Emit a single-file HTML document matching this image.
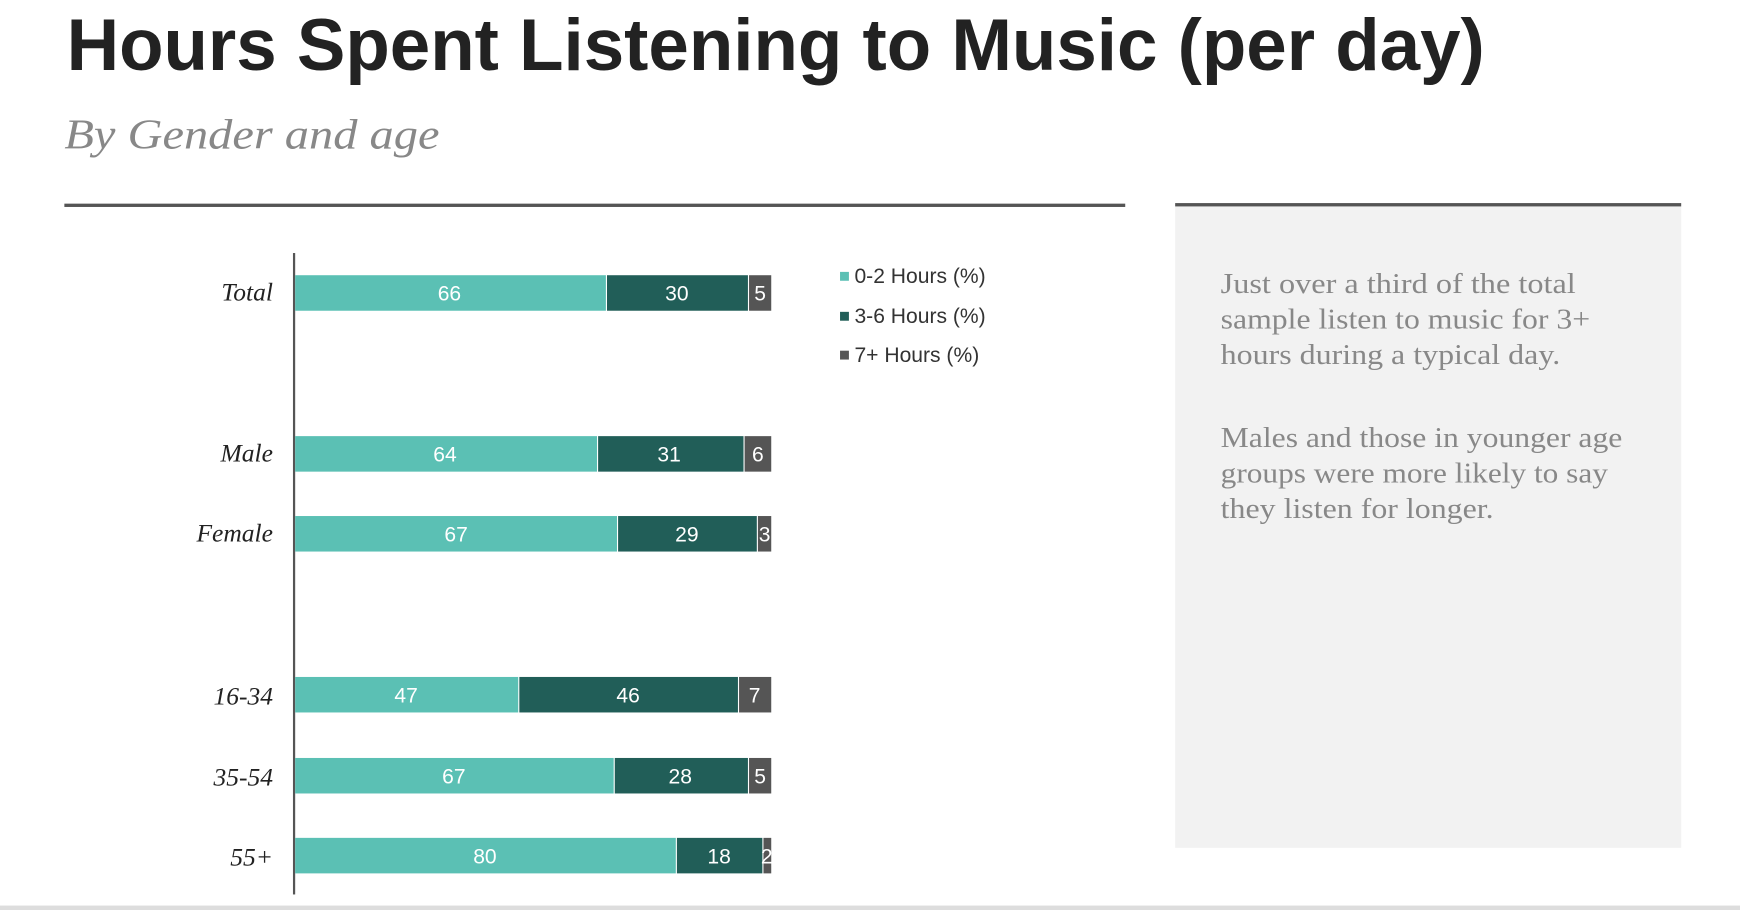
<!DOCTYPE html>
<html><head><meta charset="utf-8"><style>
html,body{margin:0;padding:0;background:#fff;}
svg{display:block;}
.lbl{font-family:"Liberation Serif",serif;font-style:italic;font-size:23px;fill:#222;text-anchor:end;}
.v{font-family:"Liberation Sans",sans-serif;font-size:19px;fill:#fff;text-anchor:middle;}
.lg{font-family:"Liberation Sans",sans-serif;font-size:19px;fill:#333;}
.p{font-family:"Liberation Serif",serif;font-size:26px;fill:#888;}
</style></head><body>
<svg width="1740" height="910" viewBox="0 0 1568 820" preserveAspectRatio="none" xmlns="http://www.w3.org/2000/svg">
<rect width="1568" height="820" fill="#fff"/>
<text x="60" y="63" font-family="Liberation Sans, sans-serif" font-weight="bold" font-size="66" fill="#222" textLength="1278" lengthAdjust="spacingAndGlyphs">Hours Spent Listening to Music (per day)</text>
<text x="58" y="134" font-family="Liberation Serif, serif" font-style="italic" font-size="38" fill="#888" textLength="338" lengthAdjust="spacingAndGlyphs">By Gender and age</text>
<rect x="58" y="183.5" width="956" height="3" fill="#555"/>
<rect x="1059" y="183" width="456" height="581" fill="#f2f2f2"/>
<rect x="1059" y="183" width="456" height="3" fill="#555"/>
<text class="p" x="1100" y="264" textLength="320" lengthAdjust="spacingAndGlyphs">Just over a third of the total</text>
<text class="p" x="1100" y="296" textLength="333" lengthAdjust="spacingAndGlyphs">sample listen to music for 3+</text>
<text class="p" x="1100" y="328" textLength="306" lengthAdjust="spacingAndGlyphs">hours during a typical day.</text>
<text class="p" x="1100" y="403" textLength="362" lengthAdjust="spacingAndGlyphs">Males and those in younger age</text>
<text class="p" x="1100" y="435" textLength="349" lengthAdjust="spacingAndGlyphs">groups were more likely to say</text>
<text class="p" x="1100" y="467" textLength="246" lengthAdjust="spacingAndGlyphs">they listen for longer.</text>
<rect x="264" y="228" width="2" height="578" fill="#555"/>
<g>
<rect x="266" y="248" width="280" height="32" fill="#5bc0b4"/><rect x="547" y="248" width="127" height="32" fill="#215e58"/><rect x="675" y="248" width="20" height="32" fill="#555"/>
<text class="v" x="405" y="271">66</text><text class="v" x="610" y="271">30</text><text class="v" x="685" y="271">5</text>
<text class="lbl" x="246" y="271">Total</text>
<rect x="266" y="393" width="272" height="32" fill="#5bc0b4"/><rect x="539" y="393" width="131" height="32" fill="#215e58"/><rect x="671" y="393" width="24" height="32" fill="#555"/>
<text class="v" x="401" y="416">64</text><text class="v" x="603" y="416">31</text><text class="v" x="683" y="416">6</text>
<text class="lbl" x="246" y="416">Male</text>
<rect x="266" y="465" width="290" height="32" fill="#5bc0b4"/><rect x="557" y="465" width="125" height="32" fill="#215e58"/><rect x="683" y="465" width="12" height="32" fill="#555"/>
<text class="v" x="411" y="488">67</text><text class="v" x="619" y="488">29</text><text class="v" x="689" y="488">3</text>
<text class="lbl" x="246" y="488">Female</text>
<rect x="266" y="610" width="201" height="32" fill="#5bc0b4"/><rect x="468" y="610" width="197" height="32" fill="#215e58"/><rect x="666" y="610" width="29" height="32" fill="#555"/>
<text class="v" x="366" y="633">47</text><text class="v" x="566" y="633">46</text><text class="v" x="680" y="633">7</text>
<text class="lbl" x="246" y="635">16-34</text>
<rect x="266" y="683" width="287" height="32" fill="#5bc0b4"/><rect x="554" y="683" width="120" height="32" fill="#215e58"/><rect x="675" y="683" width="20" height="32" fill="#555"/>
<text class="v" x="409" y="706">67</text><text class="v" x="613" y="706">28</text><text class="v" x="685" y="706">5</text>
<text class="lbl" x="246" y="708">35-54</text>
<rect x="266" y="755" width="343" height="32" fill="#5bc0b4"/><rect x="610" y="755" width="77" height="32" fill="#215e58"/><rect x="688" y="755" width="7" height="32" fill="#555"/>
<text class="v" x="437" y="778">80</text><text class="v" x="648" y="778">18</text><text class="v" x="691" y="778" font-size="17">2</text>
<text class="lbl" x="246" y="780">55+</text>
</g>
<rect x="757" y="245" width="8" height="8" fill="#5bc0b4"/><text class="lg" x="770" y="255">0-2 Hours (%)</text>
<rect x="757" y="281" width="8" height="8" fill="#215e58"/><text class="lg" x="770" y="291">3-6 Hours (%)</text>
<rect x="757" y="316" width="8" height="8" fill="#555"/><text class="lg" x="770" y="326">7+ Hours (%)</text>
<rect x="0" y="816" width="1568" height="4" fill="#ddd"/>
</svg>
</body></html>
